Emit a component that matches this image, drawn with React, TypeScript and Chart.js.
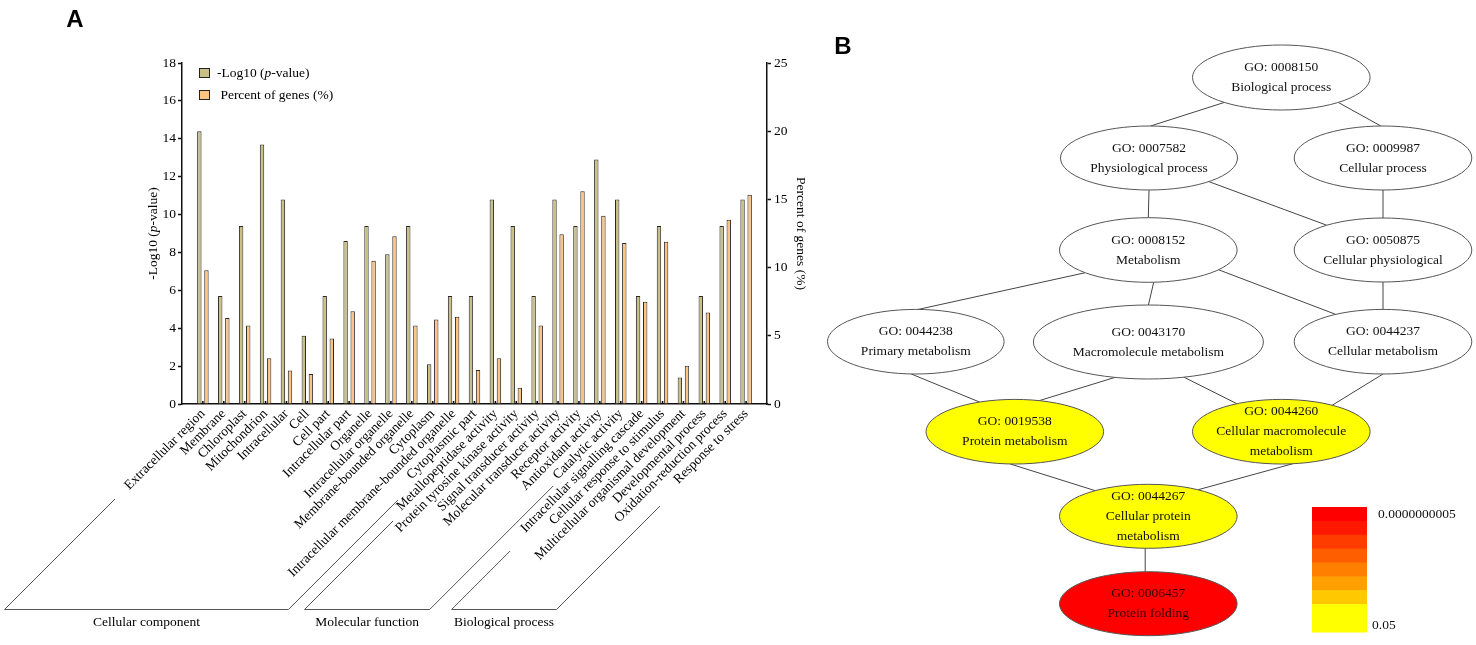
import { useEffect, useRef } from 'react';
import { Chart, registerables } from 'chart.js';

Chart.register(...registerables);

// ---------- Panel A data ----------
const categories = [
  'Extracellular region', 'Membrane', 'Chloroplast', 'Mitochondrion', 'Intracellular', 'Cell',
  'Cell part', 'Intracellular part', 'Organelle', 'Intracellular organelle',
  'Membrane-bounded organelle', 'Cytoplasm', 'Intracellular membrane-bounded organelle',
  'Cytoplasmic part', 'Metallopeptidase activity', 'Protein tyrosine kinase activity',
  'Signal transducer activity', 'Molecular transducer activity', 'Receptor activity',
  'Antioxidant activity', 'Catalytic activity', 'Intracellular signalling cascade',
  'Cellular response to stimulus', 'Multicellular organismal development',
  'Developmental process', 'Oxidation-reduction process', 'Response to stress',
];
const negLog10P = [14.4, 5.7, 9.4, 13.7, 10.8, 3.6, 5.7, 8.6, 9.4, 7.9, 9.4, 2.1, 5.7, 5.7,
  10.8, 9.4, 5.7, 10.8, 9.4, 12.9, 10.8, 5.7, 9.4, 1.4, 5.7, 9.4, 10.8];
const percentGenes = [9.8, 6.3, 5.75, 3.35, 2.45, 2.2, 4.8, 6.8, 10.5, 12.3, 5.75, 6.2, 6.4, 2.5,
  3.35, 1.2, 5.75, 12.45, 15.6, 13.8, 11.8, 7.5, 11.9, 2.8, 6.7, 13.5, 15.35];
const groupNames = ['Cellular component', 'Molecular function', 'Biological process'];
const groupFirst = [0, 14, 21];
const groupLast = [13, 20, 26];
const leftAxisMax = 18;
const leftAxisStep = 2;
const rightAxisMax = 25;
const rightAxisStep = 5;

// ---------- Panel B data ----------
const goIds = ['GO: 0008150', 'GO: 0007582', 'GO: 0009987', 'GO: 0008152', 'GO: 0050875',
  'GO: 0044238', 'GO: 0043170', 'GO: 0044237', 'GO: 0019538', 'GO: 0044260', 'GO: 0044267',
  'GO: 0006457'];
const goNames = ['Biological process', 'Physiological process', 'Cellular process', 'Metabolism',
  'Cellular physiological', 'Primary metabolism', 'Macromolecule metabolism',
  'Cellular metabolism', 'Protein metabolism', 'Cellular macromolecule\nmetabolism',
  'Cellular protein\nmetabolism', 'Protein folding'];
// index into colorBands (-1 = not significant)
const goBand = [-1, -1, -1, -1, -1, -1, -1, -1, 8, 8, 8, 0];
const edgeFrom = [0, 0, 1, 1, 2, 3, 3, 3, 4, 5, 6, 6, 7, 8, 9, 10];
const edgeTo = [1, 2, 3, 4, 4, 5, 6, 7, 7, 8, 8, 9, 9, 10, 10, 11];
const colorBands = ['#FF0000', '#FF1800', '#FF3C00', '#FF5E00', '#FF8000', '#FFA000', '#FFC800',
  '#FFFF00', '#FFFF00'];
const colorBarLabels = ['0.0000000005', '0.05'];

// ---------- layout / style (not data) ----------
const SERIF = '"Liberation Serif", "Times New Roman", serif';
const SANS = '"Liberation Sans", Arial, sans-serif';
const GOLD = '#C9C088';
const ORANGE = '#FDC383';
const bracketShiftL = [0.34, 0.7, 0.74];
const bracketShiftR = [0.93, 0.69, 0.76];
const bracketTopL = [95, 117, 147];
const bracketTopR = [96, 82, 102];
const bracketDepth = 205.5;
const groupLabelDepth = 218;

// graph layout (panel-B layout units)
const nodeX = [461.3, 329, 563, 328.3, 563, 95.8, 328.4, 563, 194.8, 461.3, 328.3, 328.3];
const nodeY = [77.5, 158, 158, 250, 250, 341.7, 342, 341.7, 431.7, 431.7, 516.3, 603.7];
const nodeRx = [88.8, 88.5, 88.8, 88.8, 88.8, 88.3, 115, 88.8, 88.8, 88.8, 88.8, 88.8];
const nodeRy = [32.5, 32, 32, 32.3, 32, 32.3, 37, 32.3, 32.3, 32.3, 32, 32];
const portFrom = [129.9, 50.1, 90, 47.5, 90, 135.3, 86.5, 37.7, 90, 93, 106.9, 72, 90, 93, 82.6, 92];
const portTo = [-89, -91.4, -90, -129.3, -90, -88.4, -90, -122.2, -90, -113.4, -74, -120, -55, -126.7, -56, -92];
const colorBarBox = { x0: 492, x1: 547, y0: 507, y1: 632 };

function drawMixed(ctx: CanvasRenderingContext2D, parts: [string, boolean][], x: number, y: number, align: 'left' | 'center', size: number) {
  let total = 0;
  const widths = parts.map(([t, it]) => {
    ctx.font = `${it ? 'italic ' : ''}${size}px ${SERIF}`;
    const w = ctx.measureText(t).width;
    total += w;
    return w;
  });
  let cx = align === 'center' ? x - total / 2 : x;
  ctx.textAlign = 'left';
  ctx.textBaseline = 'middle';
  parts.forEach(([t, it], i) => {
    ctx.font = `${it ? 'italic ' : ''}${size}px ${SERIF}`;
    ctx.fillText(t, cx, y);
    cx += widths[i];
  });
}

const panelAPlugin = {
  id: 'panelA',
  afterDraw(chart: any) {
    const ctx: CanvasRenderingContext2D = chart.ctx;
    const xs = chart.scales.x;
    const area = chart.chartArea;
    const base = area.bottom;
    ctx.save();
    // small inner marks at category centres
    ctx.fillStyle = '#111';
    categories.forEach((_, i) => {
      const px = xs.getPixelForValue(i);
      ctx.fillRect(px - 0.8, base - 3, 1.6, 3);
    });
    // legend
    ctx.fillStyle = '#000';
    const lx = area.left + 17;
    const ly1 = area.top + 10;
    const ly2 = area.top + 32;
    ctx.lineWidth = 1;
    ctx.strokeStyle = '#222';
    ctx.fillStyle = GOLD;
    ctx.fillRect(lx, ly1 - 5, 11, 10);
    ctx.strokeRect(lx + 0.5, ly1 - 4.5, 10, 9);
    ctx.fillStyle = ORANGE;
    ctx.fillRect(lx, ly2 - 5, 11, 10);
    ctx.strokeRect(lx + 0.5, ly2 - 4.5, 10, 9);
    ctx.fillStyle = '#000';
    drawMixed(ctx, [['-Log10 (', false], ['p', true], ['-value)', false]], lx + 18, ly1, 'left', 13.5);
    drawMixed(ctx, [[' Percent of genes (%)', false]], lx + 18, ly2, 'left', 13.5);
    // axis titles
    const midY = (area.top + area.bottom) / 2;
    ctx.save();
    ctx.translate(area.left - 29, midY);
    ctx.rotate(-Math.PI / 2);
    drawMixed(ctx, [['-Log10 (', false], ['p', true], ['-value)', false]], 0, 0, 'center', 13.5);
    ctx.restore();
    ctx.save();
    ctx.translate(area.right + 34, midY);
    ctx.rotate(Math.PI / 2);
    drawMixed(ctx, [['Percent of genes (%)', false]], 0, 0, 'center', 13.5);
    ctx.restore();
    // group brackets
    ctx.strokeStyle = '#555';
    ctx.lineWidth = 1;
    groupNames.forEach((name, g) => {
      const xl = xs.getPixelForValue(groupFirst[g] + bracketShiftL[g]);
      const xr = xs.getPixelForValue(groupLast[g] + bracketShiftR[g]);
      const yb = base + bracketDepth;
      ctx.beginPath();
      ctx.moveTo(xl - bracketTopL[g], base + bracketTopL[g]);
      ctx.lineTo(xl - bracketDepth, yb);
      ctx.lineTo(xr - bracketDepth, yb);
      ctx.lineTo(xr - bracketTopR[g], base + bracketTopR[g]);
      ctx.stroke();
      ctx.fillStyle = '#000';
      drawMixed(ctx, [[name, false]], (xl + xr) / 2 - bracketDepth, base + groupLabelDepth, 'center', 13.5);
    });
    // panel label
    ctx.fillStyle = '#000';
    ctx.font = `bold 24px ${SANS}`;
    ctx.textAlign = 'center';
    ctx.textBaseline = 'middle';
    ctx.fillText('A', 75, 20);
    ctx.restore();
  },
};

const panelBPlugin = {
  id: 'panelB',
  afterDatasetsDraw(chart: any) {
    const ctx: CanvasRenderingContext2D = chart.ctx;
    const xs = chart.scales.x;
    const ys = chart.scales.y;
    const pts = chart.getDatasetMeta(0).data;
    const rx = (i: number) => xs.getPixelForValue(nodeX[i] + nodeRx[i]) - xs.getPixelForValue(nodeX[i]);
    const ry = (i: number) => ys.getPixelForValue(nodeY[i] + nodeRy[i]) - ys.getPixelForValue(nodeY[i]);
    const port = (i: number, deg: number) => {
      const t = (deg * Math.PI) / 180;
      return [pts[i].x + rx(i) * Math.cos(t), pts[i].y + ry(i) * Math.sin(t)];
    };
    ctx.save();
    // edges
    ctx.strokeStyle = '#444';
    ctx.lineWidth = 1;
    edgeFrom.forEach((a, k) => {
      const b = edgeTo[k];
      const p = port(a, portFrom[k]);
      const q = port(b, portTo[k]);
      ctx.beginPath();
      ctx.moveTo(p[0], p[1]);
      ctx.lineTo(q[0], q[1]);
      ctx.stroke();
    });
    // nodes
    goIds.forEach((id, i) => {
      const cx = pts[i].x;
      const cy = pts[i].y;
      ctx.beginPath();
      ctx.ellipse(cx, cy, rx(i), ry(i), 0, 0, Math.PI * 2);
      ctx.fillStyle = goBand[i] < 0 ? '#FFFFFF' : colorBands[goBand[i]];
      ctx.fill();
      ctx.strokeStyle = '#555';
      ctx.lineWidth = 1;
      ctx.stroke();
      const lines = [id, ...goNames[i].split('\n')];
      ctx.fillStyle = goBand[i] === 0 ? '#300' : '#111';
      ctx.font = `13.5px ${SERIF}`;
      ctx.textAlign = 'center';
      ctx.textBaseline = 'middle';
      lines.forEach((ln, j) => {
        ctx.fillText(ln, cx, cy + (j - (lines.length - 1) / 2) * 20);
      });
    });
    // colour bar
    const x0 = xs.getPixelForValue(colorBarBox.x0);
    const x1 = xs.getPixelForValue(colorBarBox.x1);
    const y0 = ys.getPixelForValue(colorBarBox.y0);
    const y1 = ys.getPixelForValue(colorBarBox.y1);
    const bh = (y1 - y0) / colorBands.length;
    colorBands.forEach((c, k) => {
      ctx.fillStyle = c;
      ctx.fillRect(x0, y0 + k * bh, x1 - x0, bh + 0.5);
    });
    ctx.fillStyle = '#111';
    ctx.font = `13.5px ${SERIF}`;
    ctx.textAlign = 'left';
    ctx.textBaseline = 'middle';
    ctx.fillText(colorBarLabels[0], x1 + 11, y0 + 7);
    ctx.fillText(colorBarLabels[1], x1 + 5, y1 - 7);
    // panel label
    ctx.fillStyle = '#000';
    ctx.font = `bold 24px ${SANS}`;
    ctx.textAlign = 'center';
    ctx.fillText('B', 23, 47);
    ctx.restore();
  },
};

export default function App() {
  const refA = useRef<HTMLCanvasElement>(null);
  const refB = useRef<HTMLCanvasElement>(null);

  useEffect(() => {
    const tickFont = { family: SERIF, size: 13.5 };
    const chartA = new Chart(refA.current as HTMLCanvasElement, {
      type: 'bar',
      data: {
        labels: categories,
        datasets: [
          {
            label: '-Log10 (p-value)',
            data: negLog10P,
            yAxisID: 'y',
            backgroundColor: GOLD,
            borderColor: '#2a2a2a',
            borderWidth: 1,
            categoryPercentage: 0.68,
            barPercentage: 0.62,
          },
          {
            label: 'Percent of genes (%)',
            data: percentGenes,
            yAxisID: 'y2',
            backgroundColor: ORANGE,
            borderColor: '#2a2a2a',
            borderWidth: 1,
            categoryPercentage: 0.68,
            barPercentage: 0.62,
          },
        ],
      },
      options: {
        responsive: false,
        animation: false,
        layout: { padding: { top: 63, left: 0, right: 0, bottom: 0 } },
        plugins: { legend: { display: false }, tooltip: { enabled: false } },
        scales: {
          x: {
            type: 'category',
            offset: true,
            grid: { display: false, drawTicks: false },
            border: { display: true, color: '#111', width: 1.5 },
            ticks: {
              autoSkip: false,
              minRotation: 45,
              maxRotation: 45,
              padding: 2,
              color: '#000',
              font: tickFont,
            },
            afterBuildTicks: (axis: any) => {
              axis._startValue = -1;
              axis._valueRange = categories.length + 1;
            },
            afterFit: (axis: any) => {
              axis.height = 241;
            },
          },
          y: {
            position: 'left',
            min: 0,
            max: leftAxisMax,
            ticks: { stepSize: leftAxisStep, color: '#000', font: tickFont, padding: 2 },
            grid: { drawOnChartArea: false, drawTicks: true, tickLength: 4, color: '#111', tickWidth: 1.5 },
            border: { display: true, color: '#111', width: 1.5 },
            afterFit: (axis: any) => {
              axis.width = 182;
            },
          },
          y2: {
            position: 'right',
            min: 0,
            max: rightAxisMax,
            ticks: { stepSize: rightAxisStep, color: '#000', font: tickFont, padding: 3 },
            grid: { drawOnChartArea: false, drawTicks: true, tickLength: 4, color: '#111', tickWidth: 1.5 },
            border: { display: true, color: '#111', width: 1.5 },
            afterFit: (axis: any) => {
              axis.width = 53;
            },
          },
        },
      },
      plugins: [panelAPlugin],
    } as any);

    const chartB = new Chart(refB.current as HTMLCanvasElement, {
      type: 'scatter',
      data: {
        datasets: [
          {
            data: nodeX.map((x, i) => ({ x, y: nodeY[i] })),
            pointRadius: 0,
            pointHoverRadius: 0,
          },
        ],
      },
      options: {
        responsive: false,
        animation: false,
        layout: { padding: 0 },
        plugins: { legend: { display: false }, tooltip: { enabled: false } },
        scales: {
          x: { type: 'linear', min: 0, max: 656, display: false },
          y: { type: 'linear', min: 0, max: 645, reverse: true, display: false },
        },
      },
      plugins: [panelBPlugin],
    } as any);

    return () => {
      chartA.destroy();
      chartB.destroy();
    };
  }, []);

  return (
    <div style={{ position: 'fixed', left: 0, top: 0, width: 1476, height: 645, background: '#fff' }}>
      <canvas ref={refA} width={820} height={645} style={{ position: 'absolute', left: 0, top: 0, width: 820, height: 645 }} />
      <canvas ref={refB} width={656} height={645} style={{ position: 'absolute', left: 820, top: 0, width: 656, height: 645 }} />
    </div>
  );
}
